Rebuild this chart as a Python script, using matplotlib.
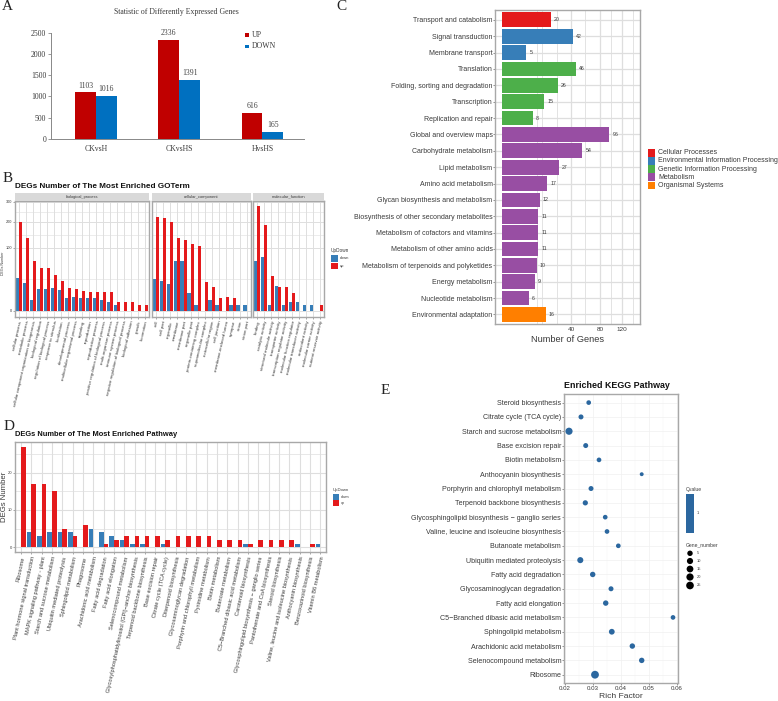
import numpy as np
import matplotlib
matplotlib.use("Agg")
import matplotlib.pyplot as plt
from matplotlib.patches import Rectangle
from matplotlib.transforms import ScaledTranslation

W, H = 778, 701
plt.rcParams['font.family'] = ['Liberation Sans', 'DejaVu Sans']

# ---------- data ----------
# A
A_GROUPS = ["CKvsH", "CKvsHS", "HvsHS"]
A_UP = [1103, 2336, 616]
A_DOWN = [1016, 1391, 165]

# B (one list per facet)
BP_NAMES = ["cellular process", "metabolic process", "cellular component organization or biogenesis",
            "biological regulation", "regulation of biological process", "response to stimulus",
            "localization", "developmental process", "multicellular organismal process", "signaling",
            "reproduction", "reproductive process", "positive regulation of biological process",
            "multi-organism process", "immune system process", "negative regulation of biological process",
            "biological adhesion", "growth", "locomotion"]
BP_DOWN = [27, 20, 3, 12, 12, 13, 11, 4, 5, 4, 4, 4, 3, 2, 1, 0, 0, 0, 0]
BP_UP = [201, 133, 62, 46, 46, 32, 22, 13, 12, 10, 9, 9, 9, 9, 2, 2, 2, 1, 1]
CC_NAMES = ["cell", "cell part", "organelle", "membrane", "membrane part", "organelle part",
            "protein-containing complex", "supramolecular complex", "extracellular region", "cell junction",
            "membrane-enclosed lumen", "synapse", "virion", "virion part"]
CC_DOWN = [25, 23, 18, 64, 64, 8, 1, 0, 3, 1, 0, 1, 1, 1]
CC_UP = [221, 218, 200, 133, 125, 113, 106, 21, 14, 4, 5, 4, 0, 0]
MF_NAMES = ["binding", "catalytic activity", "structural molecule activity", "transporter activity",
            "transcription regulator activity", "molecular function regulator", "molecular transducer activity",
            "antioxidant activity", "molecular carrier activity", "nutrient reservoir activity"]
MF_DOWN = [62, 73, 1, 16, 1, 2, 2, 1, 1, 0]
MF_UP = [279, 185, 30, 14, 15, 8, 0, 0, 0, 1]

# C
C_NAMES = ["Transport and catabolism", "Signal transduction", "Membrane transport", "Translation",
           "Folding, sorting and degradation", "Transcription", "Replication and repair",
           "Global and overview maps", "Carbohydrate metabolism", "Lipid metabolism", "Amino acid metabolism",
           "Glycan biosynthesis and metabolism", "Biosynthesis of other secondary metabolites",
           "Metabolism of cofactors and vitamins", "Metabolism of other amino acids",
           "Metabolism of terpenoids and polyketides", "Energy metabolism", "Nucleotide metabolism",
           "Environmental adaptation"]
C_VALUES = [20, 42, 5, 46, 26, 15, 8, 96, 54, 27, 17, 12, 11, 11, 11, 10, 9, 6, 16]
C_CLASS = [0, 1, 1, 2, 2, 2, 2, 3, 3, 3, 3, 3, 3, 3, 3, 3, 3, 3, 4]
C_CLASSES = ["Cellular Processes", "Environmental Information Processing", "Genetic Information Processing",
             "Metabolism", "Organismal Systems"]

# D
D_NAMES = ["Ribosome", "Plant hormone signal transduction", "MAPK signaling pathway - plant",
           "Starch and sucrose metabolism", "Ubiquitin mediated proteolysis", "Sphingolipid metabolism",
           "Phagosome", "Arachidonic acid metabolism", "Fatty acid degradation", "Fatty acid elongation",
           "Selenocompound metabolism", "Glycosylphosphatidylinositol (GPI)\u2212anchor biosynthesis",
           "Terpenoid backbone biosynthesis", "Base excision repair", "Citrate cycle (TCA cycle)",
           "Diterpenoid biosynthesis", "Glycosaminoglycan degradation", "Porphyrin and chlorophyll metabolism",
           "Pyrimidine metabolism", "Biotin metabolism", "Butanoate metabolism",
           "C5\u2212Branched dibasic acid metabolism", "Carotenoid biosynthesis",
           "Glycosphingolipid biosynthesis \u2212 ganglio series", "Pantothenate and CoA biosynthesis",
           "Steroid biosynthesis", "Valine, leucine and isoleucine biosynthesis", "Anthocyanin biosynthesis",
           "Benzoxazinoid biosynthesis", "Vitamin B6 metabolism"]
D_DOWN = [0, 4, 3, 4, 4, 4, 0, 5, 4, 3, 2, 1, 1, 0, 1, 0, 0, 0, 0, 0, 0, 0, 1, 0, 0, 0, 0, 1, 0, 1]
D_UP = [27, 17, 17, 15, 5, 3, 6, 0, 1, 2, 3, 3, 3, 3, 2, 3, 3, 3, 3, 2, 2, 2, 1, 2, 2, 2, 2, 0, 1, 0]

# E
E_NAMES = ["Steroid biosynthesis", "Citrate cycle (TCA cycle)", "Starch and sucrose metabolism",
           "Base excision repair", "Biotin metabolism", "Anthocyanin biosynthesis",
           "Porphyrin and chlorophyll metabolism", "Terpenoid backbone biosynthesis",
           "Glycosphingolipid biosynthesis \u2212 ganglio series", "Valine, leucine and isoleucine biosynthesis",
           "Butanoate metabolism", "Ubiquitin mediated proteolysis", "Fatty acid degradation",
           "Glycosaminoglycan degradation", "Fatty acid elongation", "C5\u2212Branched dibasic acid metabolism",
           "Sphingolipid metabolism", "Arachidonic acid metabolism", "Selenocompound metabolism", "Ribosome"]
E_RICH = [0.02846, 0.02571, 0.02143, 0.02739, 0.03214, 0.04739, 0.02929, 0.02725, 0.03436, 0.0350, 0.03904,
          0.02546, 0.02989, 0.03643, 0.03454, 0.05857, 0.03671, 0.04404, 0.04739, 0.03071]
E_GENES = [2, 3, 19, 3, 2, 1, 3, 4, 2, 2, 2, 9, 5, 3, 5, 2, 7, 5, 5, 27]
LEG_GENES = [5, 10, 15, 20, 25]

# ---------- colours ----------
RED, BLUE = '#E41A1C', '#377EB8'
C_COLORS = ['#E41A1C', '#377EB8', '#4DAF4A', '#984EA3', '#FF7F00']
GRID = '#dedede'
BORDER = '#a8a8a8'
TXT = '#3a3a3a'
DOT = '#2B679F'

fig = plt.figure(figsize=(W / 100, H / 100), dpi=100)


def axes_px(left, top, right, bottom):
    # axes from pixel edges, y counted from the top of the image
    return fig.add_axes([left / W, 1 - bottom / H, (right - left) / W, (bottom - top) / H])


def txt(x, y, s, **kw):
    kw.setdefault('va', 'center')
    kw.setdefault('color', TXT)
    return fig.text(x / W, 1 - y / H, s, **kw)


def box_px(left, top, right, bottom, color):
    fig.add_artist(Rectangle((left / W, 1 - bottom / H), (right - left) / W, (bottom - top) / H,
                             transform=fig.transFigure, facecolor=color, edgecolor='none'))


def sq(v):
    v = np.asarray(v, dtype=float)
    return np.sign(v) * np.sqrt(np.abs(v))


def unsq(v):
    v = np.asarray(v, dtype=float)
    return np.sign(v) * v ** 2


def style_panel(ax):
    for s in ax.spines.values():
        s.set_color(BORDER)
        s.set_linewidth(1.0)
    ax.set_axisbelow(True)


def shift_labels(ax, dx_px):
    # the rotated labels sit a little to the right of their ticks
    shift = ScaledTranslation(dx_px / 100, 0, fig.dpi_scale_trans)
    for t in ax.get_xticklabels():
        t.set_transform(t.get_transform() + shift)


def dot_size(genes):
    # gene number -> marker area, dot diameter in px first
    return ((3.9 + 3.9 * np.sqrt((np.array(genes) - 1) / 26)) * 0.72) ** 2


# panel letters
for letter, x, y in [("A", 2, 7), ("B", 3, 178), ("C", 336, 7), ("D", 4, 427), ("E", 381, 391)]:
    txt(x, y, letter, family='Liberation Serif', fontsize=11, color='#222222')

# ---------- A ----------
ax = axes_px(51, 32.7, 304, 139)
pos = np.arange(3)
ax.bar(pos - 0.125, A_UP, 0.25, color='#C00000')
ax.bar(pos + 0.125, A_DOWN, 0.25, color='#0070C0')
for i in pos:
    ax.text(i - 0.125, A_UP[i] + 60, str(A_UP[i]), ha='center', va='bottom', family='Liberation Serif',
            fontsize=5.6, color='#444444')
    ax.text(i + 0.125, A_DOWN[i] + 60, str(A_DOWN[i]), ha='center', va='bottom', family='Liberation Serif',
            fontsize=5.6, color='#444444')
ax.set_xlim(-0.54, 2.5)
ax.set_ylim(0, 2500)
ax.set_yticks(range(0, 2501, 500))
ax.set_xticks(pos, A_GROUPS, family='Liberation Serif', fontsize=5.6, color=TXT)
ax.tick_params(axis='y', labelsize=5.6, labelcolor=TXT, length=2, width=0.6, color='#888888', pad=1.5)
ax.tick_params(axis='x', length=0, pad=4)
for t in ax.get_yticklabels():
    t.set_family('Liberation Serif')
for s in ['top', 'right']:
    ax.spines[s].set_visible(False)
for s in ['left', 'bottom']:
    ax.spines[s].set_color('#888888')
    ax.spines[s].set_linewidth(0.7)
txt(176, 12, "Statistic of Differently Expressed Genes", family='Liberation Serif', fontsize=5.6, ha='center')
box_px(245.5, 33.5, 249, 37, '#C00000')
box_px(245.5, 44.8, 249, 48.3, '#0070C0')
txt(252, 35.2, "UP", family='Liberation Serif', fontsize=5.6)
txt(252, 46.5, "DOWN", family='Liberation Serif', fontsize=5.6)

# ---------- B ----------
txt(15, 186, "DEGs Number of The Most Enriched GOTerm", fontsize=5.9, fontweight='bold', color='#111111')
b_panels = [(15, 149, BP_NAMES, BP_DOWN, BP_UP, "biological_process"),
            (151.7, 250.7, CC_NAMES, CC_DOWN, CC_UP, "cellular_component"),
            (253, 324, MF_NAMES, MF_DOWN, MF_UP, "molecular_function")]
for k, (left, right, names, down, up, strip) in enumerate(b_panels):
    ax = axes_px(left, 200.7, right, 316.7)
    ax.set_yscale('function', functions=(sq, unsq))
    x = np.arange(len(names))
    ax.bar(x - 0.235, down, 0.47, color=BLUE)
    ax.bar(x + 0.235, up, 0.47, color=RED)
    ax.set_xlim(-0.6, len(names) - 0.4)
    ax.set_ylim(-0.82, 306)
    ax.set_yticks([0, 100, 200, 300])
    ax.set_yticks([25, 146, 247], minor=True)
    ax.grid(True, which='major', color=GRID, lw=0.7)
    ax.grid(True, which='minor', axis='y', color=GRID, lw=0.4)
    ax.set_xticks(x)
    ax.set_xticklabels(names, rotation=77, ha='right', va='top', rotation_mode='anchor',
                       fontsize=3.15, color=TXT)
    shift_labels(ax, 3)
    ax.tick_params(axis='x', length=1.2, width=0.4, pad=1.5, color='#666666')
    ax.tick_params(axis='y', which='minor', length=0)
    if k == 0:
        ax.tick_params(axis='y', labelsize=2.8, labelcolor=TXT, length=1.2, width=0.4, pad=0.8, color='#666666')
    else:
        ax.tick_params(axis='y', length=0, labelleft=False)
    style_panel(ax)
    box_px(left, 193, right, 200.7, '#d9d9d9')
    txt((left + right) / 2, 196.8, strip, fontsize=2.9, ha='center')
txt(3.5, 263, "DEGs Number", fontsize=2.6, rotation=90, ha='center')
txt(331, 250, "UpDown", fontsize=3.4)
box_px(331, 255, 338, 261.8, BLUE)
box_px(331, 262.5, 338, 269.3, RED)
txt(340, 258.3, "down", fontsize=2.9)
txt(340, 265.8, "up", fontsize=2.9)

# ---------- C ----------
ax = axes_px(495.3, 10, 639.7, 324.3)
ax.set_xscale('function', functions=(sq, unsq))
y = np.arange(len(C_NAMES))
ax.barh(y, C_VALUES, 0.9, color=[C_COLORS[c] for c in C_CLASS])
for i, v in enumerate(C_VALUES):
    ax.annotate(str(v), (v, i), xytext=(2.2, 0), textcoords='offset points', va='center',
                fontsize=3.8, color=TXT)
ax.set_xlim(-0.37, 158)
ax.set_ylim(len(C_NAMES) - 0.4, -0.6)
ax.set_xticks([40, 80, 120])
ax.set_xticks([10, 13.5, 25, 58, 99, 143], minor=True)
ax.set_yticks(y, C_NAMES, fontsize=5.05, color=TXT)
ax.grid(True, which='major', color=GRID, lw=0.9)
ax.grid(True, which='minor', axis='x', color=GRID, lw=0.6)
ax.tick_params(axis='both', which='major', length=1.5, width=0.5, color='#666666', pad=0.5)
ax.tick_params(axis='x', which='major', labelsize=4.6, labelcolor=TXT, length=0, pad=2)
ax.tick_params(axis='x', which='minor', length=0)
style_panel(ax)
txt(567.7, 339, "Number of Genes", fontsize=6.7, ha='center')
for i, name in enumerate(C_CLASSES):
    yc = 152.7 + 8.16 * i
    box_px(647.7, yc - 3.8, 655, yc + 3.8, C_COLORS[i])
    txt(658, yc, name, fontsize=5.0)

# ---------- D ----------
txt(15, 435, "DEGs Number of The Most Enriched Pathway", fontsize=5.4, fontweight='bold', color='#111111')
ax = axes_px(15, 441.7, 326, 552.3)
x = np.arange(len(D_NAMES))
ax.bar(x - 0.225, D_DOWN, 0.45, color=BLUE)
ax.bar(x + 0.225, D_UP, 0.45, color=RED)
ax.set_xlim(-0.58, 29.55)
ax.set_ylim(-1.34, 28.3)
ax.set_yticks([0, 10, 20])
ax.set_yticks([5, 15, 25], minor=True)
ax.grid(True, which='major', color=GRID, lw=0.8)
ax.grid(True, which='minor', axis='y', color=GRID, lw=0.5)
ax.set_xticks(x)
ax.set_xticklabels(D_NAMES, rotation=78, ha='right', va='top', rotation_mode='anchor', fontsize=4.1, color=TXT)
shift_labels(ax, 3)
ax.tick_params(axis='x', length=1.2, width=0.4, pad=1.5, color='#666666')
ax.tick_params(axis='y', labelsize=3, labelcolor=TXT, length=1.2, width=0.4, pad=0.8, color='#666666')
ax.tick_params(axis='y', which='minor', length=0)
style_panel(ax)
txt(4.5, 496.5, "DEGs Number", fontsize=5.6, rotation=90, ha='center')
txt(332.7, 489.5, "UpDown", fontsize=3.1)
box_px(333, 494, 339, 499.8, BLUE)
box_px(333, 500.5, 339, 506.3, RED)
txt(341, 497, "down", fontsize=2.6)
txt(341, 503.4, "up", fontsize=2.6)

# ---------- E ----------
ax = axes_px(564, 394, 678.3, 683.3)
y = np.arange(len(E_NAMES))
ax.scatter(E_RICH, y, s=dot_size(E_GENES), color=DOT, linewidths=0, zorder=3)
ax.set_xlim(0.01964, 0.06046)
ax.set_ylim(len(E_NAMES) - 0.4, -0.6)
ax.set_xticks([0.02, 0.03, 0.04, 0.05, 0.06], ['0.02', '0.03', '0.04', '0.05', '0.06'])
ax.set_xticks([0.025, 0.035, 0.045, 0.055], minor=True)
ax.set_yticks(y, E_NAMES, fontsize=5.1, color=TXT)
ax.grid(True, which='major', color='#f0f0f0', lw=0.5)
ax.grid(True, which='minor', axis='x', color='#f5f5f5', lw=0.3)
ax.tick_params(axis='y', length=1.5, width=0.5, color='#666666', pad=0.5)
ax.tick_params(axis='x', labelsize=4.4, labelcolor=TXT, length=1.5, width=0.5, color='#666666', pad=0.6)
ax.tick_params(axis='x', which='minor', length=0)
style_panel(ax)
txt(564.3, 386, "Enriched KEGG Pathway", fontsize=6.4, fontweight='bold', color='#111111')
txt(621, 696, "Rich Factor", fontsize=6.1, ha='center')
txt(686, 489, "Qvalue", fontsize=3.6)
box_px(686, 494, 693.5, 532.7, DOT)
txt(696.5, 513.3, "1", fontsize=2.9)
txt(686, 544.7, "Gene_number", fontsize=3.6)
leg_y = [553.3, 561, 569, 577, 585.5]
lax = axes_px(686, 549, 694, 590)
lax.set_xlim(686, 694)
lax.set_ylim(590, 549)
lax.axis('off')
lax.scatter([690] * 5, leg_y, s=dot_size(LEG_GENES), color='black', linewidths=0, clip_on=False)
for g, yy in zip(LEG_GENES, leg_y):
    txt(697, yy, str(g), fontsize=2.9)

fig.savefig("out.png", dpi=100)
